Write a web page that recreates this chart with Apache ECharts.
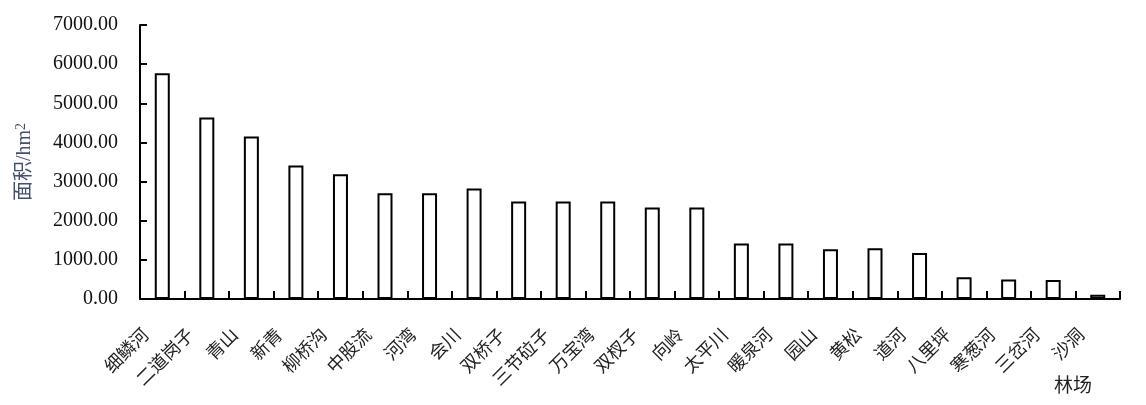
<!DOCTYPE html>
<html>
<head>
<meta charset="utf-8">
<script src="https://cdn.jsdelivr.net/npm/echarts@6/dist/echarts.min.js"></script>
<style>
html,body{margin:0;padding:0;background:#fff;}
#main{width:1146px;height:405px;}
</style>
</head>
<body>
<div id="main"></div>
<script>
// 林场名称
var categories = ['细鳞河','二道岗子','青山','新青','柳桥沟','中股流','河湾','会川','双桥子','三节砬子','万宝湾',
    '双杈子','向岭','太平川','暖泉河','园山','黄松','道河','八里坪','寒葱河','三岔河','沙洞'];
// 面积 hm2
var areaValues = [5770, 4640, 4150, 3410, 3185, 2700, 2700, 2820, 2490, 2490, 2490,
    2335, 2335, 1415, 1415, 1270, 1295, 1175, 555, 500, 485, 110];
var yMin = 0, yMax = 7000, yStep = 1000;

var serif = '"Liberation Serif", "Noto Sans CJK SC", serif';

function drawChart(id) {
    var myChart = echarts.init(document.getElementById(id));
    var option = {
        animation: false,
        backgroundColor: '#fff',
        grid: {
            left: 140,
            right: 26,
            top: 25,
            bottom: 106
        },
        xAxis: {
            type: 'category',
            data: categories,
            name: '林场',
            nameLocation: 'end',
            nameGap: -47,
            nameTextStyle: {
                fontFamily: serif,
                fontSize: 19,
                color: '#222',
                align: 'center',
                verticalAlign: 'top',
                padding: [79, 0, 0, 0]
            },
            axisLine: {lineStyle: {color: '#000', width: 2}},
            axisTick: {show: true, inside: true, length: 8, lineStyle: {color: '#000', width: 2}},
            axisLabel: {
                rotate: 45,
                interval: 0,
                margin: 18,
                padding: [0, 22, 0, 0],
                fontFamily: serif,
                fontSize: 18,
                color: '#222'
            }
        },
        yAxis: {
            type: 'value',
            min: yMin,
            max: yMax,
            interval: yStep,
            name: '面积/hm{sup|2}',
            nameLocation: 'middle',
            nameGap: 104,
            nameTextStyle: {
                fontFamily: serif,
                fontSize: 20,
                color: '#445071',
                rich: {
                    sup: {fontFamily: serif, fontSize: 14, color: '#445071', verticalAlign: 'top', padding: [0, 0, 8, 0]}
                }
            },
            splitLine: {show: false},
            axisLine: {show: true, lineStyle: {color: '#000', width: 2}},
            axisTick: {show: true, inside: true, length: 7, lineStyle: {color: '#000', width: 2}},
            axisLabel: {
                margin: 22,
                fontFamily: serif,
                fontSize: 20,
                color: '#111',
                formatter: function (v) { return v.toFixed(2); }
            }
        },
        series: [{
            type: 'bar',
            data: areaValues,
            barWidth: 15,
            itemStyle: {color: '#fff', borderColor: '#000', borderWidth: 2}
        }]
    };
    myChart.setOption(option);
}

drawChart('main');
</script>
</body>
</html>
